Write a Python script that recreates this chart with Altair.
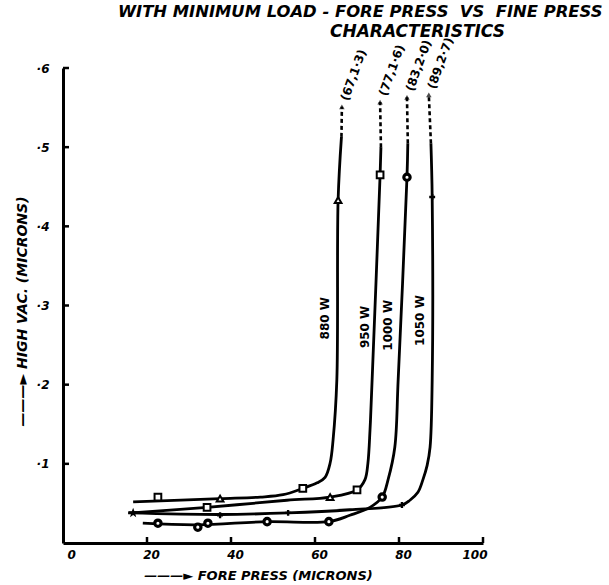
import altair as alt
import pandas as pd

# ---------------- data ----------------
title_line1 = "WITH MINIMUM LOAD - FORE PRESS\u00a0\u00a0VS\u00a0\u00a0FINE PRESS"
title_line2 = "CHARACTERISTICS"

x_ticks = [0, 20, 40, 60, 80, 100]
y_ticks = [0.0, 0.1, 0.2, 0.3, 0.4, 0.5, 0.6]

curve_names = ["880 W", "950 W", "1000 W", "1050 W"]

# solid part of each curve
x_880 = [16.7, 37.4, 47.0, 52.4, 57.1, 60.5, 62.4, 63.6, 64.3, 65.2, 65.5, 66.3]
y_880 = [0.052, 0.056, 0.058, 0.061, 0.069, 0.076, 0.083, 0.101, 0.130, 0.206, 0.433, 0.513]
x_950 = [16.4, 34.3, 53.3, 63.6, 70.0, 71.9, 72.6, 73.1, 73.6, 75.5, 75.7]
y_950 = [0.038, 0.045, 0.054, 0.058, 0.067, 0.080, 0.101, 0.143, 0.206, 0.465, 0.500]
x_1000 = [19.0, 32.1, 48.6, 63.3, 68.3, 73.1, 76.0, 77.4, 79.0, 79.8, 81.9, 82.1]
y_1000 = [0.025, 0.023, 0.027, 0.027, 0.035, 0.045, 0.058, 0.080, 0.121, 0.206, 0.462, 0.505]
x_1050 = [15.5, 37.4, 53.6, 68.3, 80.7, 82.6, 84.5, 85.7, 86.7, 87.4, 87.9, 87.9, 87.6]
y_1050 = [0.038, 0.036, 0.038, 0.042, 0.048, 0.054, 0.064, 0.080, 0.098, 0.121, 0.206, 0.437, 0.505]

# dotted continuation to the off-scale value
dot_x = {"880 W": [66.3, 66.4], "950 W": [75.7, 75.5], "1000 W": [82.1, 81.9], "1050 W": [87.6, 87.1]}
dot_y = {"880 W": [0.513, 0.551], "950 W": [0.500, 0.557], "1000 W": [0.505, 0.563], "1050 W": [0.505, 0.566]}

tip_x = [66.4, 75.5, 81.9, 87.1]
tip_y = [0.551, 0.557, 0.563, 0.566]
tip_labels = ["(67,1·3)", "(77,1·6)", "(83,2·0)", "(89,2·7)"]

lab_x = [62.4, 71.9, 77.4, 85.0]
lab_y = [0.284, 0.273, 0.275, 0.281]

# observation markers
sq_x = [22.6, 57.1, 34.3, 70.0, 75.5]
sq_y = [0.058, 0.069, 0.045, 0.067, 0.465]
tri_x = [37.4, 63.6, 65.5]
tri_y = [0.056, 0.058, 0.433]
circ_x = [22.6, 32.1, 34.5, 48.6, 63.3, 76.0, 81.9]
circ_y = [0.025, 0.020, 0.025, 0.027, 0.027, 0.058, 0.462]
cross_x = [37.4, 53.6, 80.7, 87.9]
cross_y = [0.035, 0.038, 0.048, 0.437]
star_x = [16.7]
star_y = [0.038]

# ---------------- tables ----------------
solid = {"880 W": (x_880, y_880), "950 W": (x_950, y_950),
         "1000 W": (x_1000, y_1000), "1050 W": (x_1050, y_1050)}
rows = []
for name, (xs, ys) in solid.items():
    for i, (a, b) in enumerate(zip(xs, ys)):
        rows.append({"x": a, "y": b, "curve": name, "i": i})
lines_df = pd.DataFrame(rows)

rows = []
for name in curve_names:
    for i, (a, b) in enumerate(zip(dot_x[name], dot_y[name])):
        rows.append({"x": a, "y": b, "curve": name, "i": i})
dots_df = pd.DataFrame(rows)

tips_df = pd.DataFrame({"x": tip_x, "y": tip_y, "t": tip_labels})
labs_df = pd.DataFrame({"x": lab_x, "y": lab_y, "t": curve_names})
sq_df = pd.DataFrame({"x": sq_x, "y": sq_y})
tri_df = pd.DataFrame({"x": tri_x, "y": tri_y})
circ_df = pd.DataFrame({"x": circ_x, "y": circ_y})
cross_df = pd.DataFrame({"x": cross_x, "y": cross_y})
star_df = pd.DataFrame({"x": star_x, "y": star_y})
xt_df = pd.DataFrame({"x": x_ticks[1:]})
yt_df = pd.DataFrame({"y": y_ticks[1:]})

FONT = "DejaVu Sans"

xaxis = alt.Axis(values=x_ticks, title="———► FORE PRESS (MICRONS)",
                 titleX=195, titleY=32, titleAlign="center", titleBaseline="middle",
                 labelOffset=4, labelPadding=6, labelFontSize=12, titleFontSize=13)
yaxis = alt.Axis(values=y_ticks, title="———► HIGH VAC. (MICRONS)",
                 labelExpr="datum.value == 0 ? '' : '·' + round(datum.value * 10)",
                 titleX=-41, titleY=243, titleAlign="center", titleBaseline="middle",
                 titleAngle=270, labelPadding=14, labelFontSize=12, titleFontSize=14)

X = alt.X("x:Q", scale=alt.Scale(domain=[0, 100], nice=False, zero=False), axis=xaxis)
Y = alt.Y("y:Q", scale=alt.Scale(domain=[0, 0.6], nice=False, zero=False), axis=yaxis)

lines = alt.Chart(lines_df).mark_line(color="black", strokeWidth=2.8, interpolate="catmull-rom").encode(
    x=X, y=Y, detail="curve:N", order="i:Q")
dotted = alt.Chart(dots_df).mark_line(color="black", strokeWidth=2.6, strokeDash=[4, 3]).encode(
    x=X, y=Y, detail="curve:N", order="i:Q")
tips = alt.Chart(tips_df).mark_point(shape="triangle-up", filled=True, color="black", size=30).encode(x=X, y=Y)
tip_text = alt.Chart(tips_df).mark_text(angle=290, align="left", baseline="middle", dx=7,
                                        font=FONT, fontWeight="bold", fontSize=12, color="black").encode(
    x=X, y=Y, text="t:N")
lab_text = alt.Chart(labs_df).mark_text(angle=270, align="center", baseline="middle",
                                        font=FONT, fontWeight="bold", fontSize=12, color="black").encode(
    x=X, y=Y, text="t:N")

sq = alt.Chart(sq_df).mark_point(shape="square", filled=False, fill="white", stroke="black",
                                 strokeWidth=2, size=45, opacity=1).encode(x=X, y=Y)
tri = alt.Chart(tri_df).mark_point(shape="triangle-up", filled=False, fill="white", stroke="black",
                                   strokeWidth=2, size=45, opacity=1).encode(x=X, y=Y)
circ = alt.Chart(circ_df).mark_point(shape="circle", filled=False, fill="white", stroke="black",
                                     strokeWidth=3.2, size=40, opacity=1).encode(x=X, y=Y)
cross = alt.Chart(cross_df).mark_point(shape="cross", filled=True, color="black", size=35, opacity=1).encode(x=X, y=Y)
star = alt.Chart(star_df).mark_point(
    shape="M0,-1L0.24,-0.32L0.95,-0.31L0.38,0.12L0.59,0.81L0,0.4L-0.59,0.81L-0.38,0.12L-0.95,-0.31L-0.24,-0.32Z",
    filled=True, color="black", size=110, opacity=1).encode(x=X, y=Y)

xticks = alt.Chart(xt_df).mark_rule(color="black", strokeWidth=2.5).encode(
    x=X, y=alt.value(475), y2=alt.value(469))
yticks = alt.Chart(yt_df).mark_rule(color="black", strokeWidth=2.5).encode(
    y=Y, x=alt.value(0), x2=alt.value(6))

t1 = alt.Chart(pd.DataFrame({"t": [title_line1]})).mark_text(
    align="left", baseline="middle", font=FONT, fontWeight="bold", fontStyle="italic",
    fontSize=16.4, color="black").encode(x=alt.value(55), y=alt.value(-56), text="t:N")
t2 = alt.Chart(pd.DataFrame({"t": [title_line2]})).mark_text(
    align="left", baseline="middle", font=FONT, fontWeight="bold", fontStyle="italic",
    fontSize=17, color="black").encode(x=alt.value(267), y=alt.value(-36), text="t:N")

chart = alt.layer(lines, dotted, xticks, yticks, sq, tri, circ, cross, star, tips, tip_text, lab_text, t1, t2).properties(
    width=420, height=475,
    padding={"left": 63, "top": 68, "right": 126, "bottom": 42},
    autosize=alt.AutoSizeParams(type="none"),
    background="white",
).configure_view(stroke=None).configure_axis(
    grid=False, domainColor="black", domainWidth=3, tickSize=0,
    labelFont=FONT, labelFontWeight="bold", labelFontStyle="italic", labelColor="black",
    titleFont=FONT, titleFontWeight="bold", titleFontStyle="italic", titleColor="black",
)

chart.save("out.html", embed_options={"renderer": "svg", "actions": False})
